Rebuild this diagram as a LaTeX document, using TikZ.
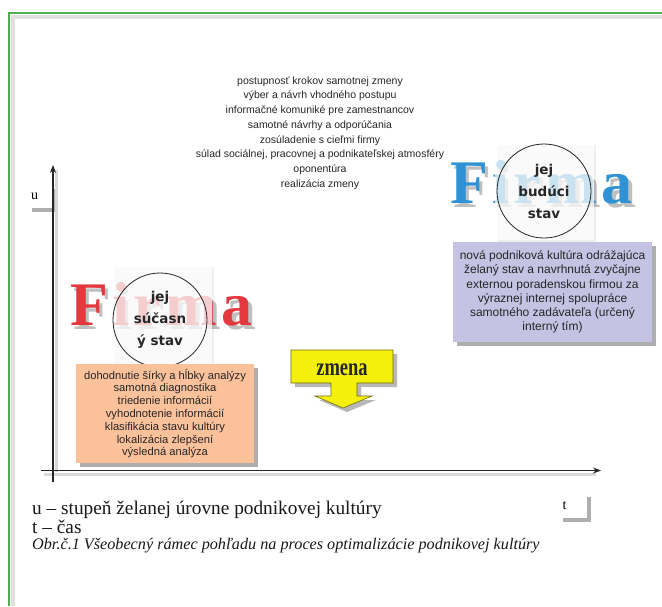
\documentclass[tikz,border=0pt]{standalone}
\usepackage{fontspec}
\setmainfont{Liberation Serif}
\newfontfamily\arial{Liberation Sans}
\newfontfamily\comic{DejaVu Sans}
\newfontfamily\firmafont[LetterSpace=7]{Liberation Serif}
\newfontfamily\zfont[FakeStretch=0.74]{Liberation Serif}
\usetikzlibrary{shadows,arrows.meta}
\definecolor{frameg}{HTML}{4CAF50}
\definecolor{peach}{HTML}{FBC19B}
\definecolor{lav}{HTML}{C4C3E4}
\definecolor{firmared}{HTML}{E4383F}
\definecolor{firmablue}{HTML}{2F92D4}
\definecolor{zyellow}{HTML}{F4F00C}
\definecolor{zborder}{HTML}{6E6A10}
\tikzset{
  boxshadow/.style={drop shadow={shadow xshift=3.5pt,shadow yshift=-3.5pt,opacity=.45,fill=black!70}},
  listtext/.style={font=\arial\fontsize{10.5}{14.7}\selectfont, align=center, inner sep=0pt, text=black!85},
  peachbox/.style={fill=peach, boxshadow, align=center, inner sep=0pt,
     minimum width=178pt, minimum height=99pt, text=black!85,
     font=\arial\fontsize{11.2}{12.8}\selectfont},
  lavbox/.style={fill=lav, boxshadow, align=center, inner sep=0pt,
     minimum width=199pt, minimum height=100pt, text=black!85,
     font=\arial\fontsize{12}{14.3}\selectfont},
  axisline/.style={line width=1.1pt, black!85, -{Stealth[length=8pt,width=6pt]}},
  labelbox/.style={fill=white, boxshadow, inner sep=0pt, font=\fontsize{14}{14}\selectfont},
  firma/.style={font=\firmafont\bfseries\fontsize{62}{62}\selectfont, inner sep=0pt, anchor=base west},
  firmashadow/.style={firma, text=black!55, opacity=.45},
  veil/.style={fill=white, fill opacity=.74, drop shadow={shadow xshift=2pt,shadow yshift=-2pt,opacity=.12}},
  statecircle/.style={circle, draw=black!85, line width=.8pt, minimum size=94pt, inner sep=0pt,
     align=center, font=\comic\bfseries\fontsize{13.5}{22}\selectfont, text=black!85},
  zshape/.style={fill=zyellow, draw=zborder, line width=.6pt,
     drop shadow={shadow xshift=4pt,shadow yshift=-4pt,opacity=.4,fill=black!70}},
  legendtext/.style={anchor=base west, inner sep=0pt, font=\fontsize{19.3}{19.3}\selectfont, text=black!90},
}
\begin{document}
\begin{tikzpicture}[x=1pt,y=-1pt]
\useasboundingbox (0,0) rectangle (662,606);
\fill[white] (0,0) rectangle (662,606);
% frame
\draw[black!12, line width=4pt] (13,606) -- (13,17) -- (662,17);
\draw[frameg, line width=2.5pt] (9,606) -- (9,13) -- (662,13);

% process steps
\node[listtext] (steps) at (320,133) {postupnosť krokov samotnej zmeny\\
výber a návrh vhodného postupu\\
informačné komuniké pre zamestnancov\\
samotné návrhy a odporúčania\\
zosúladenie s cieľmi firmy\\
súlad sociálnej, pracovnej a podnikateľskej atmosféry\\
oponentúra\\
realizácia zmeny};

% axis labels boxes
\node[labelbox, minimum width=25pt, minimum height=23pt, text width=19pt, align=left] (ubox) at (40.5,196.5) {u};
\node[labelbox, minimum width=28pt, minimum height=25pt, text width=21pt, align=left] (tbox) at (573,505.5) {t};

% axes
\coordinate (ybot) at (53,482);
\coordinate (ytop) at (53,165);
\coordinate (xleft) at (41,470.5);
\coordinate (xright) at (601,470.5);
\draw[black!15, line width=3pt] (56,472) -- (56,170);
\draw[black!15, line width=3pt] (44,474) -- (596,474);
\draw[axisline] (ybot) -- (ytop);
\draw[axisline] (xleft) -- (xright);

% current state
\node[firmashadow] (redshadow) at (73.5,329) {Firma};
\node[firma, text=firmared] (redfirma) at (70,325) {Firma};
\fill[veil] (112,265) rectangle (212,365);
\node[statecircle] (current) at (160,320) {jej\\súčasn\\ý stav};
\node[peachbox] (analysis) at (165,413.5) {dohodnutie šírky a hĺbky analýzy\\
samotná diagnostika\\
triedenie informácií\\
vyhodnotenie informácií\\
klasifikácia stavu kultúry\\
lokalizácia zlepšení\\
výsledná analýza};

% future state
\node[firmashadow] (blueshadow) at (453.5,207) {Firma};
\node[firma, text=firmablue] (bluefirma) at (450,203) {Firma};
\fill[veil] (495,143) rectangle (594,240);
\node[statecircle] (future) at (544,191) {jej\\budúci\\stav};
\node[lavbox] (culture) at (552.5,292) {nová podniková kultúra odrážajúca\\
želaný stav a navrhnutá zvyčajne\\
externou poradenskou firmou za\\
výraznej internej spolupráce\\
samotného zadávateľa (určený\\
interný tím)};

% zmena arrow
\draw[zshape] (291,350) -- (393,350) -- (393,383) -- (357,383) -- (357,396)
  -- (372,396) -- (343,408) -- (315,396) -- (331,396) -- (331,383) -- (291,383) -- cycle;
\node[font=\zfont\bfseries\fontsize{25}{25}\selectfont, text=black!85, inner sep=0pt, anchor=base] (zmena) at (342,375) {zmena};

% legend and caption
\node[legendtext] (legendu) at (32,514) {u – stupeň želanej úrovne podnikovej kultúry};
\node[legendtext] (legendt) at (32,533) {t – čas};
\node[anchor=base west, inner sep=0pt, font=\itshape\fontsize{16.2}{16.2}\selectfont, text=black!90] (caption) at (32,549)
  {Obr.č.1 Všeobecný rámec pohľadu na proces optimalizácie podnikovej kultúry};
\end{tikzpicture}
\end{document}
